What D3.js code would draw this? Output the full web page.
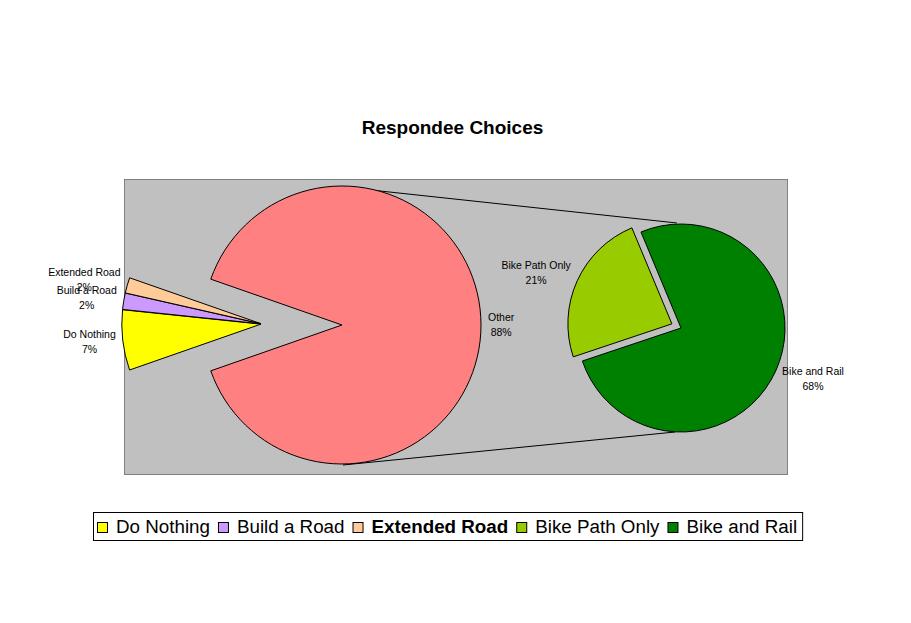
<!DOCTYPE html>
<html><head><meta charset="utf-8">
<script src="https://cdn.jsdelivr.net/npm/d3@7"></script>
<style>
body{margin:0;background:#fff}
text{font-family:"Liberation Sans",Arial,sans-serif;fill:#000}
</style>
</head><body>
<svg id="chart" width="911" height="623"></svg>
<script>
// first pie: the small answers plus "Other"
var main_names = ["Do Nothing","Build a Road","Extended Road","Other"]
var main_values = [7.0, 1.9, 1.8, 89.3]
var main_pct = ["7%","2%","2%","88%"]
var main_colors = ["#FFFF00","#CC99FF","#FFCC99","#FF8080"]
// second pie: what "Other" is made of
var sub_names = ["Bike Path Only","Bike and Rail"]
var sub_values = [21.3, 68.0]
var sub_pct = ["21%","68%"]
var sub_colors = ["#99CC00","#008000"]
// legend
var legend_names = ["Do Nothing","Build a Road","Extended Road","Bike Path Only","Bike and Rail"]
var legend_colors = ["#FFFF00","#CC99FF","#FFCC99","#99CC00","#008000"]
var legend_bold = ["Extended Road"]
var title = "Respondee Choices"

var svg = d3.select("#chart")
var W = 911, H = 623
var plot = {x:124, y:179, w:663, h:295}
var c1 = {x:342, y:325, r:139}
var c2 = {x:681, y:328, r:104}
var explode_small = 80
var explode_sub = 10
var sub_start = 251.5 // degrees, d3 convention
var total = d3.sum(main_values)

svg.append("text")
    .attr("x", W/2 - 3).attr("y", 134)
    .attr("text-anchor","middle")
    .style("font-weight","bold").style("font-size","19px")
    .text(title)

svg.append("rect")
    .attr("x", plot.x + 0.5).attr("y", plot.y + 0.5)
    .attr("width", plot.w).attr("height", plot.h)
    .style("fill","#C0C0C0").style("stroke","#808080")

var other_span = 2*Math.PI*main_values[3]/total
var pie1 = d3.pie().sort(null)
    .startAngle(Math.PI/2 + other_span/2)
    .endAngle(Math.PI/2 + other_span/2 + 2*Math.PI)
var arcs1 = pie1(main_values)

var s0 = sub_start*Math.PI/180
var pie2 = d3.pie().sort(null).startAngle(s0).endAngle(s0 + 2*Math.PI)
var arcs2 = pie2(sub_values)

var arc1 = d3.arc().innerRadius(0).outerRadius(c1.r)
var arc2 = d3.arc().innerRadius(0).outerRadius(c2.r)

// connector lines
svg.append("line")
    .attr("x1", c1.x + 1).attr("y1", c1.y - c1.r + 1)
    .attr("x2", c2.x - 4).attr("y2", c2.y - c2.r - 1)
    .style("stroke","#000")
svg.append("line")
    .attr("x1", c1.x + 1).attr("y1", c1.y + c1.r + 1)
    .attr("x2", c2.x - 6).attr("y2", c2.y + c2.r)
    .style("stroke","#000")

function mid(d){ return (d.startAngle + d.endAngle)/2 }

// main pie
var g1 = svg.append("g").attr("transform","translate("+c1.x+","+c1.y+")")
var labels = []
arcs1.forEach(function(d,i){
    var m = mid(d)
    var dx = 0, dy = 0
    if(i < 3){
        dx = -explode_small + 1.2*Math.sin(m)
        dy = -1 - 1.2*Math.cos(m)
    }
    g1.append("path")
        .attr("d", arc1(d))
        .attr("transform","translate("+dx+","+dy+")")
        .style("fill", main_colors[i]).style("stroke","#000").style("stroke-width",1)
    labels.push({cx:c1.x+dx, cy:c1.y+dy, r:c1.r, a:m, lines:[main_names[i], main_pct[i]]})
})

// second pie
var g2 = svg.append("g").attr("transform","translate("+c2.x+","+c2.y+")")
arcs2.forEach(function(d,i){
    var m = mid(d)
    var dx = 0, dy = 0
    if(i == 0){
        dx = explode_sub*Math.sin(m)
        dy = -explode_sub*Math.cos(m)
    }
    g2.append("path")
        .attr("d", arc2(d))
        .attr("transform","translate("+dx+","+dy+")")
        .style("fill", sub_colors[i]).style("stroke","#000").style("stroke-width",1)
    labels.push({cx:c2.x+dx, cy:c2.y+dy, r:c2.r, a:m, lines:[sub_names[i], sub_pct[i]]})
})

// outside end labels
var g_lab = svg.append("g")
labels.forEach(function(l){
    var px = l.cx + (l.r + 7)*Math.sin(l.a)
    var py = l.cy - (l.r + 7)*Math.cos(l.a)
    var t = g_lab.append("text").style("font-size","10.5px").attr("text-anchor","middle")
    var spans = l.lines.map(function(s){ return t.append("tspan").text(s) })
    var w = d3.max(spans, function(s){ return s.node().getComputedTextLength() })
    var bx = Math.sin(l.a) < 0 ? px - w/2 : px + w/2
    var by = py - 0.5 - 12*Math.cos(l.a)
    spans.forEach(function(s,k){
        s.attr("x", bx).attr("y", by + (k - 0.5)*15 + 4)
    })
})

// legend
var lg = svg.append("g")
var lx = 0
legend_names.forEach(function(n,i){
    var it = lg.append("g")
    it.append("rect").attr("x", lx + 0.5).attr("y", 522.5).attr("width",10).attr("height",10)
        .style("fill", legend_colors[i]).style("stroke","#000")
    var t = it.append("text").attr("x", lx + 19).attr("y", 533)
        .style("font-size","18.8px")
        .style("font-weight", legend_bold.indexOf(n) >= 0 ? "bold" : "normal")
        .text(n)
    lx += 19 + t.node().getComputedTextLength() + 8
})
var lw = lx + 1
var lx0 = Math.round(447.5 - lw/2)
lg.attr("transform","translate("+(lx0+4)+",0)")
svg.insert("rect", "g:last-of-type")
    .attr("x", lx0 + 0.5).attr("y", 512.5).attr("width", lw).attr("height", 28)
    .style("fill","#fff").style("stroke","#000")
</script>
</body></html>
